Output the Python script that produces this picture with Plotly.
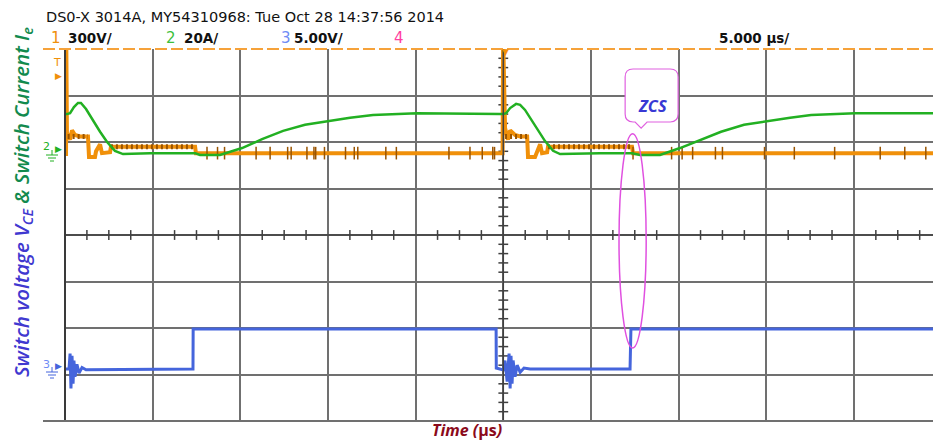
import plotly.graph_objects as go

# ---------------- data (time in µs, amplitude in screen divisions) -------------
# Channel 1 (orange, 300 V/div)
ch1_t = [0.00, 0.06, 0.07, 0.11, 0.29, 0.40, 0.57, 0.86, 1.31, 1.37, 1.71, 1.77, 2.00, 2.11, 2.57, 2.62,
         7.42, 7.47, 24.81, 24.96, 24.99, 25.10, 25.27, 25.39, 25.67, 25.96, 26.36, 26.41, 26.81, 26.93,
         27.10, 27.21, 27.50, 27.55, 32.34, 32.40, 49.51]
ch1_v = [1.74, 1.74, 4.30, 2.20, 2.05, 2.25, 2.15, 2.12, 2.12, 1.68, 1.68, 1.80, 1.95, 1.76, 1.78, 1.90,
         1.90, 1.76, 1.76, 1.76, 4.30, 2.30, 2.05, 2.25, 2.15, 2.12, 2.12, 1.68, 1.68, 1.80,
         1.95, 1.76, 1.78, 1.90, 1.90, 1.76, 1.76]
# dense (speckled) parts of channel 1
ch1_band_t = [0.15, 1.31, None, 2.62, 7.42, None, 25.10, 26.36, None, 27.55, 32.34]
ch1_band_v = [2.12, 2.12, None, 1.90, 1.90, None, 2.12, 2.12, None, 1.90, 1.90]
# glitch ticks visible on the channel 1 baseline
ch1_glitch_t = [8.1, 8.7, 9.1, 10.9, 11.7, 12.7, 12.9, 13.8, 14.2, 14.3, 14.8, 16.0, 16.5, 16.7, 18.3,
                18.9, 21.9, 23.1, 23.8, 24.5, 24.4, 32.4, 34.6, 35.2, 35.8, 37.1, 37.5, 39.9, 41.6,
                43.9, 46.5, 47.9, 49.1]
ch1_glitch_v = [1.76] * len(ch1_glitch_t)

# Channel 2 (green, 20 A/div)
ch2_t = [0.00, 0.11, 0.29, 0.51, 0.74, 0.91, 1.20, 1.60, 2.00, 2.40, 2.85, 3.31, 4.85, 7.42, 7.70, 8.84,
         10.10, 11.24, 12.44, 13.69, 15.06, 16.26, 17.57, 18.82, 20.08, 24.81,
         24.99, 25.16, 25.39, 25.73, 25.96, 26.24, 26.58, 26.98, 27.38, 27.84, 28.24, 30.52, 32.34,
         32.80, 33.94, 35.08, 36.22, 37.42, 38.73, 40.05, 41.36, 42.56, 43.81, 45.07, 49.51]
ch2_v = [2.60, 2.60, 2.62, 2.75, 2.84, 2.84, 2.71, 2.45, 2.22, 2.00, 1.81, 1.74, 1.76, 1.76, 1.72, 1.72,
         1.87, 2.06, 2.24, 2.37, 2.45, 2.52, 2.58, 2.60, 2.62, 2.60,
         2.60, 2.62, 2.73, 2.82, 2.80, 2.69, 2.49, 2.26, 2.02, 1.81, 1.74, 1.76, 1.76,
         1.72, 1.72, 1.87, 2.04, 2.22, 2.37, 2.45, 2.52, 2.58, 2.60, 2.62, 2.62]

# Channel 3 (blue, 5.00 V/div)
ch3_t = [0.00, 0.23, 0.29, 0.34, 0.40, 0.46, 0.51, 0.57, 0.68, 0.80, 0.97, 1.20, 7.30, 7.31, 24.59, 24.60,
         24.99, 25.10, 25.22, 25.33, 25.39, 25.44, 25.50, 25.56, 25.67, 25.79, 25.96, 26.18, 26.53,
         32.23, 32.28, 49.51]
ch3_v = [-2.88, -2.88, -2.55, -3.30, -2.60, -3.20, -2.70, -3.05, -2.78, -2.97, -2.85, -2.90, -2.88, -2.02,
         -2.02, -2.86, -2.90, -2.70, -3.15, -2.55, -3.30, -2.60, -3.20, -2.70, -3.05, -2.80, -2.95,
         -2.86, -2.88, -2.88, -2.02, -2.02]

header = "DS0-X 3014A, MY54310968: Tue Oct 28 14:37:56 2014"
ch_labels = ["1", "2", "3", "4"]
ch_scales = ["300V/", "20A/", "5.00V/", ""]
timebase = "5.000 µs/"

# ---------------- layout helpers ----------------
W, H = 933, 442
L, T, B = 65, 49, 21
PW, PH = W - L, H - T - B
XMAX = 49.51


def XP(px):
    return (px - L) / PW


def YP(py):
    return (H - B - py) / PH


ORANGE = "#f0900a"
BROWN = "#9a5400"
GREEN = "#22b022"
BLUE = "#4565dc"
GRID = "#707070"

fig = go.Figure()

# graticule ticks on centre lines
tick_x = [i * 1.25 for i in range(0, 40) if i % 4 != 0]
fig.add_trace(go.Scatter(x=tick_x, y=[0] * len(tick_x), mode="markers", hoverinfo="skip",
                         marker=dict(symbol="line-ns", size=7, line=dict(color="#404040", width=1.5))))
tick_y = [round(-4 + i * 0.2, 2) for i in range(0, 41) if i % 5 != 0]
fig.add_trace(go.Scatter(x=[25] * len(tick_y), y=tick_y, mode="markers", hoverinfo="skip",
                         marker=dict(symbol="line-ew", size=7, line=dict(color="#404040", width=1.5))))

# channel traces
fig.add_trace(go.Scatter(x=ch3_t, y=ch3_v, mode="lines", line=dict(color=BLUE, width=3)))
fig.add_trace(go.Scatter(x=ch1_t, y=ch1_v, mode="lines", line=dict(color=ORANGE, width=4)))
fig.add_trace(go.Scatter(x=ch1_band_t, y=ch1_band_v, mode="lines",
                         line=dict(color=BROWN, width=5, dash="2px,3px")))
fig.add_trace(go.Scatter(x=ch1_glitch_t, y=ch1_glitch_v, mode="markers",
                         marker=dict(symbol="line-ns", size=9, line=dict(color=BROWN, width=1.5))))
fig.add_trace(go.Scatter(x=ch2_t, y=ch2_v, mode="lines", line=dict(color=GREEN, width=2.5)))

shapes = []
# centre lines
shapes.append(dict(type="line", xref="x", yref="y", x0=0, x1=XMAX, y0=0, y1=0,
                   line=dict(color="#404040", width=1.5)))
shapes.append(dict(type="line", xref="x", yref="y", x0=25, x1=25, y0=-4, y1=4,
                   line=dict(color="#404040", width=1.5)))
# left border, bottom border, top dashed border
shapes.append(dict(type="line", xref="paper", yref="paper", x0=0, x1=0, y0=0, y1=1,
                   line=dict(color="#3a3a3a", width=2)))
shapes.append(dict(type="line", xref="paper", yref="paper", x0=XP(43), x1=1, y0=0, y1=0,
                   line=dict(color=GRID, width=2)))
shapes.append(dict(type="line", xref="paper", yref="paper", x0=XP(43), x1=1, y0=1, y1=1,
                   line=dict(color="#f6a23a", width=2, dash="12px,4px")))
# ZCS ellipse
shapes.append(dict(type="circle", xref="x", yref="y", x0=31.6, x1=33.15, y0=-2.43, y1=2.18,
                   line=dict(color="#e050e0", width=1.5)))
# ZCS callout bubble
x0, x1, yt, yb = 31.95, 34.97, 3.57, 2.43
rx, ry = 0.45, 0.17
path = (f"M {x0+rx},{yt} L {x1-rx},{yt} Q {x1},{yt} {x1},{yt-ry} L {x1},{yb+ry} "
        f"Q {x1},{yb} {x1-rx},{yb} L 33.20,{yb} L 32.86,2.30 L 32.52,{yb} L {x0+rx},{yb} "
        f"Q {x0},{yb} {x0},{yb+ry} L {x0},{yt-ry} Q {x0},{yt} {x0+rx},{yt} Z")
shapes.append(dict(type="path", xref="x", yref="y", path=path, fillcolor="white",
                   line=dict(color="#e060e0", width=1.2)))
# ground symbols
for gy, col in [(155, GREEN), (372, BLUE)]:
    shapes.append(dict(type="line", xref="paper", yref="paper", x0=XP(52), x1=XP(52), y0=YP(gy - 5), y1=YP(gy),
                       line=dict(color=col, width=1)))
    for half, dy in [(6, 0), (4, 3), (2, 6)]:
        shapes.append(dict(type="line", xref="paper", yref="paper", x0=XP(52 - half), x1=XP(52 + half),
                           y0=YP(gy + dy), y1=YP(gy + dy), line=dict(color=col, width=1)))

ann = []


def add_text(text, px, py, size, color, family="DejaVu Sans", xanchor="left", weight="normal",
             style="normal", angle=0):
    ann.append(dict(text=text, x=XP(px), y=YP(py), xref="paper", yref="paper", showarrow=False,
                    xanchor=xanchor, yanchor="middle", textangle=angle,
                    font=dict(size=size, color=color, family=family, weight=weight, style=style)))


add_text(header, 44, 17, 14.5, "#111111")
num_cols = [ORANGE, "#3cc03c", "#6f8cf5", "#ff3fa0"]
num_x = [49, 164, 279, 392]
lab_x = [66, 182, 292, 0]
for i in range(4):
    add_text(ch_labels[i], num_x[i], 38, 15, num_cols[i])
    if ch_scales[i]:
        add_text(ch_scales[i], lab_x[i], 38, 13.5, "#111111", weight="bold")
add_text(timebase, 717, 38, 13.5, "#111111", weight="bold")

# channel markers on left
add_text("T", 57, 63, 11, ORANGE, xanchor="center")
add_text("▶", 58, 76, 9, ORANGE, xanchor="center")
add_text("2", 46, 146, 11, GREEN, xanchor="center")
add_text("▶", 58, 149, 9, GREEN, xanchor="center")
add_text("3", 46, 364, 11, "#6f8cf5", xanchor="center")
add_text("▶", 58, 366, 9, BLUE, xanchor="center")
add_text("▼", 505, 52, 9, ORANGE, xanchor="center")

# axis titles
ylabel = ('<span style="color:#4038d0">Switch voltage V<sub>CE</sub></span>'
          '<span style="color:#128a4e"> &amp; Switch Current I<sub>e</sub></span>')
add_text(ylabel, 22, 202, 20.5, "#4038d0", family="Open Sans", xanchor="center", weight=600,
         style="italic", angle=-90)
add_text('Time (<span style="font-style:normal">µs</span>)', 467, 430, 16, "#8b0a1a", family="Open Sans",
         xanchor="center", weight="bold", style="italic")
add_text("ZCS", 652, 105, 16.5, "#3838d4", family="Open Sans", xanchor="center", weight="bold", style="italic")

fig.update_layout(
    width=W, height=H, margin=dict(l=L, r=0, t=T, b=B, pad=0),
    paper_bgcolor="white", plot_bgcolor="white", showlegend=False,
    shapes=shapes, annotations=ann,
    xaxis=dict(range=[0, XMAX], dtick=5, tick0=0, showgrid=True, gridcolor=GRID, gridwidth=2,
               zeroline=False, showticklabels=False, ticks="", fixedrange=True),
    yaxis=dict(range=[-4, 4], dtick=1, tick0=0, showgrid=True, gridcolor=GRID, gridwidth=2,
               zeroline=False, showticklabels=False, ticks="", fixedrange=True),
)

fig.write_html("out.html", config={"displayModeBar": False},
               post_script="document.body.style.margin='0';document.body.style.padding='0';")
